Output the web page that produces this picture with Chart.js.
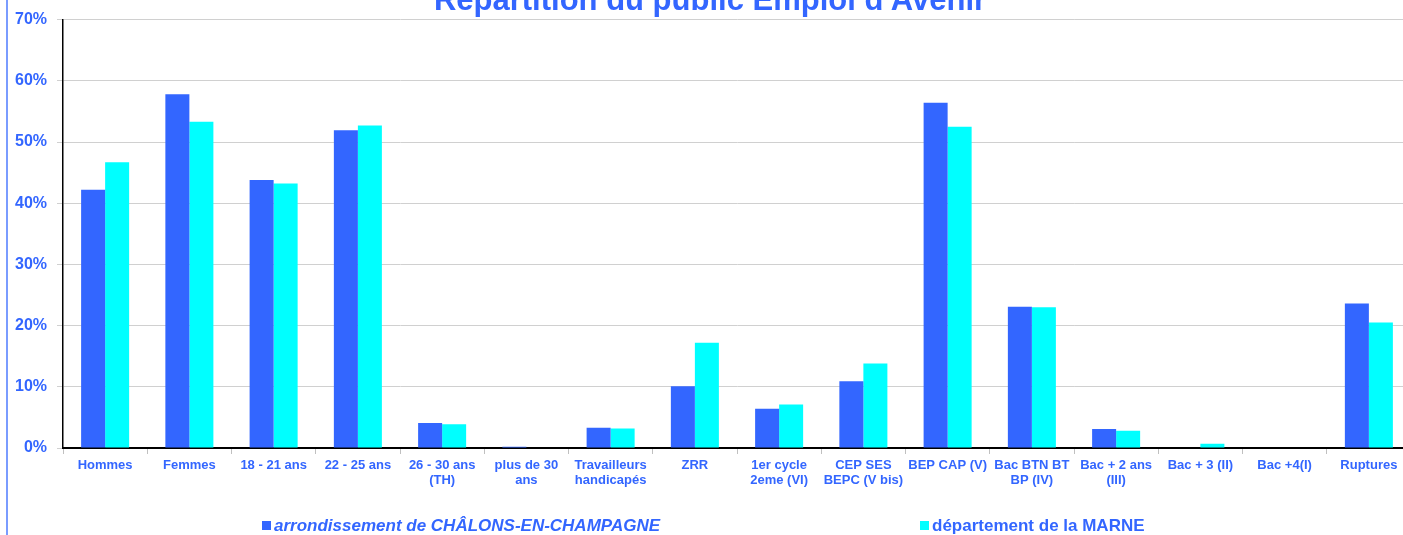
<!DOCTYPE html>
<html>
<head>
<meta charset="utf-8">
<script src="https://cdn.jsdelivr.net/npm/chart.js@4"></script>
<style>
  html, body { margin: 0; padding: 0; background: #fff; }
  #wrap { width: 1403px; height: 535px; overflow: hidden; }
</style>
</head>
<body>
<div id="wrap"><canvas id="publicChart" width="1411" height="535"></canvas></div>
<script>
// categories and values (percent)
const categories = [
  'Hommes', 'Femmes', '18 - 21 ans', '22 - 25 ans', ['26 - 30 ans', '(TH)'],
  ['plus de 30', 'ans'], ['Travailleurs', 'handicapés'], 'ZRR', ['1er cycle', '2eme (VI)'],
  ['CEP SES', 'BEPC (V bis)'], 'BEP CAP (V)', ['Bac BTN BT', 'BP (IV)'],
  ['Bac + 2 ans', '(III)'], 'Bac + 3 (II)', 'Bac +4(I)', 'Ruptures'
];
const arrondissement = [42.2, 57.8, 43.8, 51.9, 4.1, 0.2, 3.3, 10.1, 6.4, 10.9, 56.4, 23.1, 3.1, 0, 0, 23.6];
const departement = [46.7, 53.3, 43.2, 52.7, 3.9, 0, 3.2, 17.2, 7.1, 13.8, 52.5, 23.0, 2.8, 0.7, 0, 20.5];
const seriesNames = ['arrondissement de CHÂLONS-EN-CHAMPAGNE', 'département de la MARNE'];
const title = "Répartition du public Emploi d'Avenir";

const BLUE = '#3366FF';
const CYAN = '#00FFFF';
const FONT = '"Liberation Sans", Arial, sans-serif';

// title (cut at the top), left frame line and hand-placed legend
const decorations = {
  id: 'decorations',
  afterDraw(chart) {
    const ctx = chart.ctx;
    ctx.save();
    ctx.fillStyle = '#7a9cff';
    ctx.fillRect(6, 0, 2, chart.height);

    ctx.fillStyle = BLUE;
    ctx.font = 'bold 31px ' + FONT;
    ctx.textAlign = 'center';
    ctx.textBaseline = 'alphabetic';
    ctx.fillText(title, 710, 10);

    const legendItems = [
      { x: 262, font: 'italic bold 17px ' + FONT },
      { x: 920, font: 'bold 17px ' + FONT }
    ];
    chart.data.datasets.forEach((ds, i) => {
      const it = legendItems[i];
      ctx.fillStyle = ds.backgroundColor;
      ctx.fillRect(it.x, 521, 9, 9);
      ctx.fillStyle = BLUE;
      ctx.font = it.font;
      ctx.textAlign = 'left';
      ctx.textBaseline = 'middle';
      ctx.fillText(ds.label, it.x + 12, 526);
    });
    ctx.restore();
  }
};

new Chart(document.getElementById('publicChart'), {
  type: 'bar',
  data: {
    labels: categories,
    datasets: [
      { label: seriesNames[0], data: arrondissement, backgroundColor: BLUE,
        categoryPercentage: 0.57, barPercentage: 1 },
      { label: seriesNames[1], data: departement, backgroundColor: CYAN,
        categoryPercentage: 0.57, barPercentage: 1 }
    ]
  },
  options: {
    responsive: false,
    animation: false,
    layout: { padding: { top: 18, right: 0, left: 0, bottom: 0 } },
    plugins: {
      legend: { display: false },
      title: { display: false },
      tooltip: { enabled: false }
    },
    scales: {
      x: {
        afterFit(scale) { scale.height = 87; },
        grid: { display: true, drawOnChartArea: false, drawTicks: true, tickLength: 6, color: '#c0c0c0', offset: true },
        border: { display: true, color: '#000', width: 2 },
        ticks: {
          color: BLUE, font: { family: FONT, size: 13, weight: 'bold', lineHeight: 1.15 },
          maxRotation: 0, minRotation: 0, autoSkip: false, padding: 4
        }
      },
      y: {
        min: 0, max: 70,
        afterFit(scale) { scale.width = 63; },
        grid: { color: '#d0d0d0', tickLength: 6, lineWidth: 1 },
        border: { display: true, color: '#000', width: 1.5 },
        ticks: {
          stepSize: 10, color: BLUE, padding: 10,
          font: { family: FONT, size: 16, weight: 'bold' },
          callback: v => v + '%'
        }
      }
    }
  },
  plugins: [decorations]
});
</script>
</body>
</html>
